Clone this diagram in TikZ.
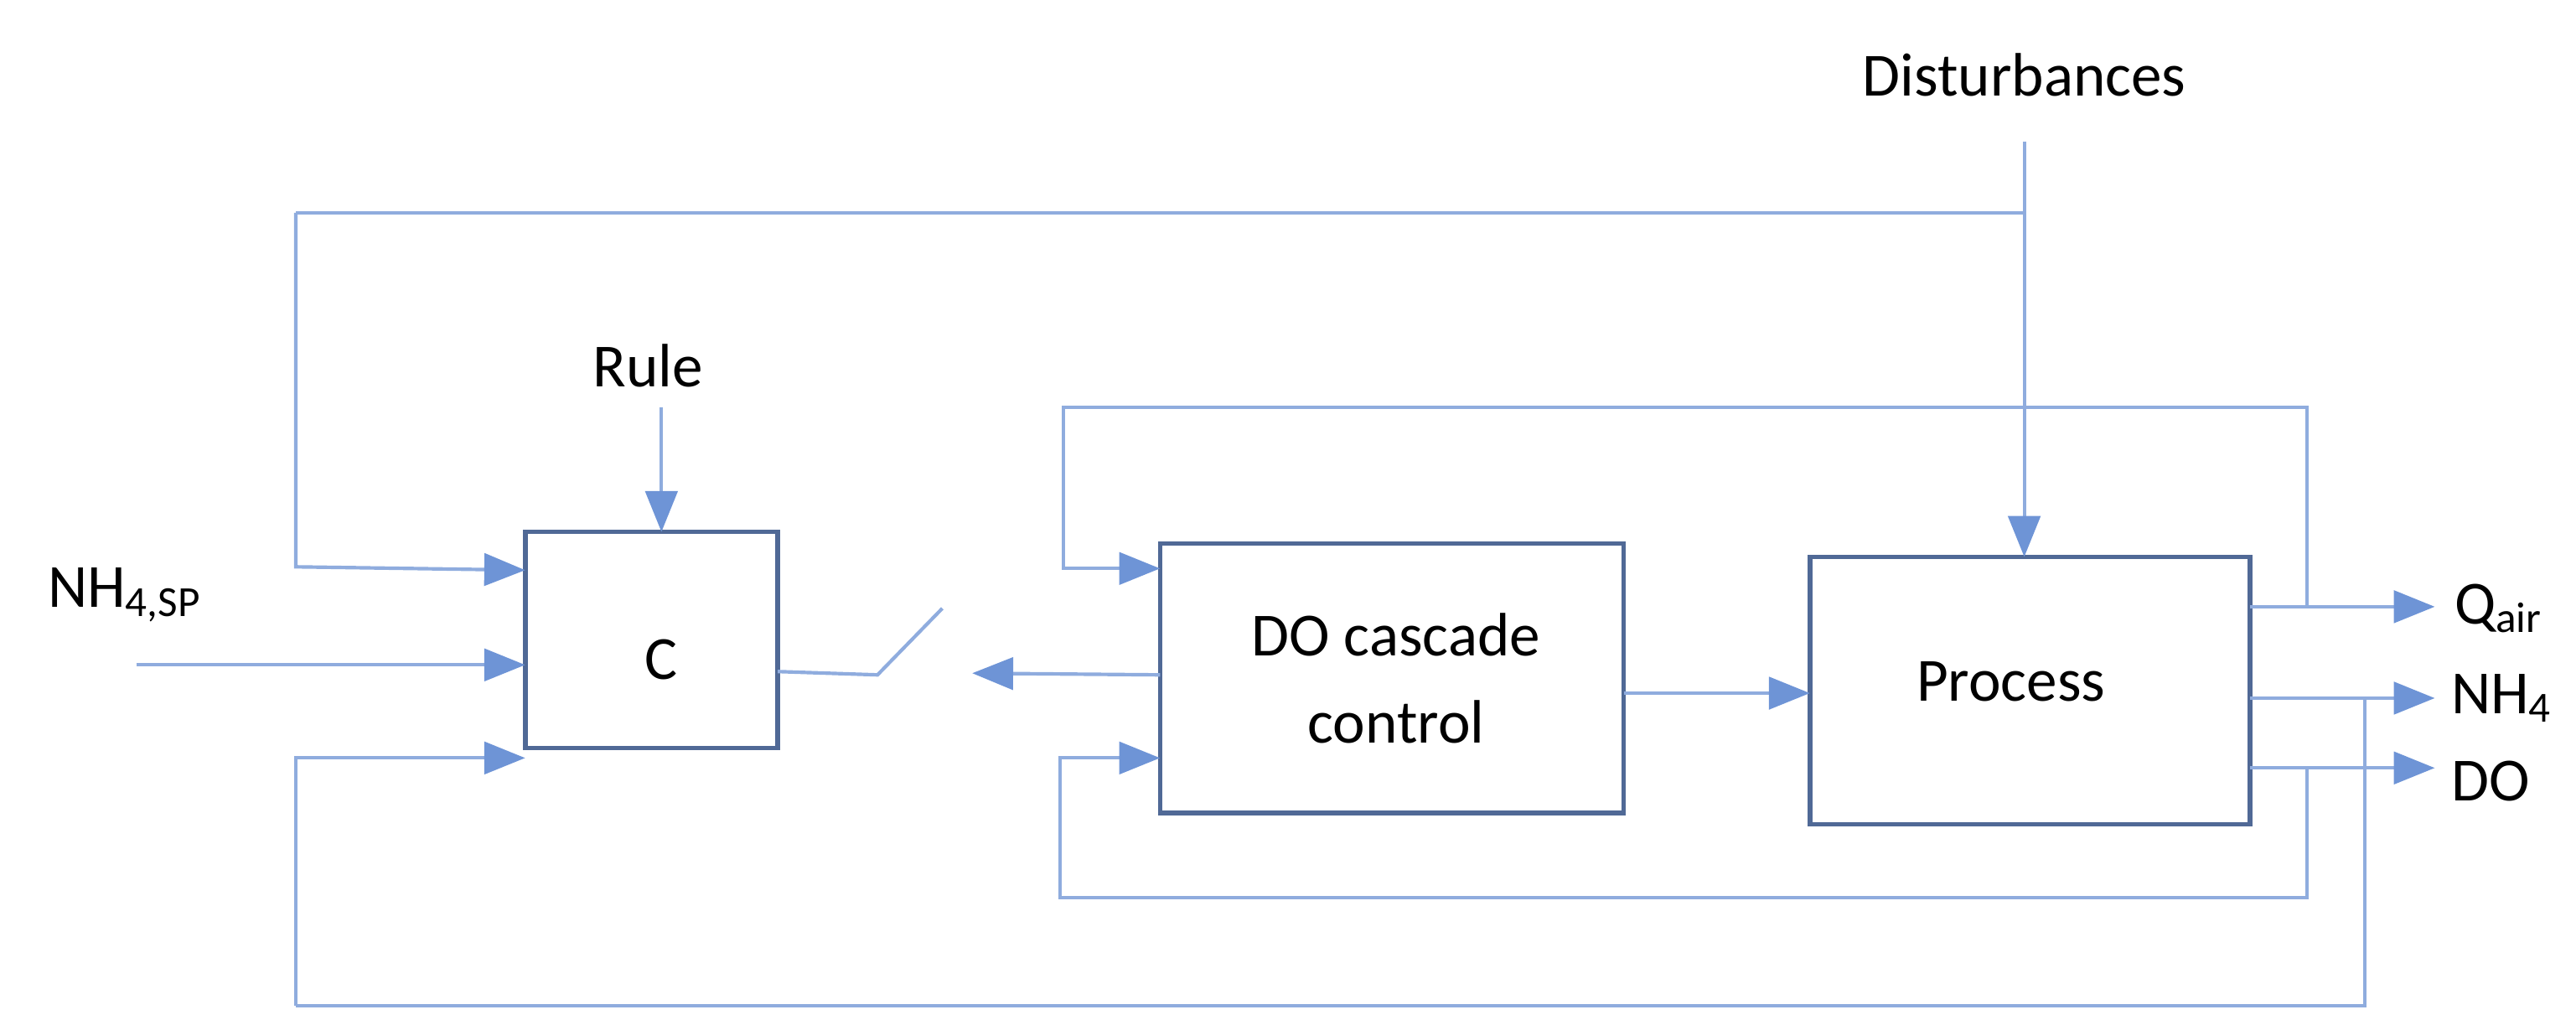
\documentclass[tikz,border=0pt]{standalone}
\usepackage{fontspec}
\setmainfont{Carlito}
\usetikzlibrary{arrows.meta}
\definecolor{ln}{RGB}{143,172,222}
\definecolor{ah}{RGB}{110,148,214}
\definecolor{bx}{RGB}{80,105,150}
\begin{document}
\begin{tikzpicture}[x=0.02cm,y=-0.02cm,
  line width=1.2pt,
  box/.style={draw=bx,line width=1.6pt,inner sep=0pt,fill=white},
  lbl/.style={font=\fontsize{21}{24}\selectfont,text=black},
  w/.style={ln},
  a/.style={ln,-{Triangle[length=14pt,width=11pt,fill=ah,color=ah]}}]
\useasboundingbox (0,0) rectangle (1550,613.6);
\node[box,minimum width=3.04cm,minimum height=2.6cm] (C) at (392,385) {};
\node[lbl] at (398,397) {C};
\node[box,minimum width=5.58cm,minimum height=3.24cm,align=center] (D) at (837.5,408) {};
\node[lbl,align=center] at (840,408) {DO cascade\\[6pt]control};
\node[box,minimum width=5.3cm,minimum height=3.22cm] (P) at (1221.5,415.5) {};
\node[lbl] at (1210,410) {Process};
\node[lbl] (dist) at (1218,45) {Disturbances};
\node[lbl] (rule) at (390,220) {Rule};
\node[lbl] (sp) at (75,358) {NH\textsubscript{4,SP}};
\node[lbl,anchor=west] (qa) at (1470,366) {Q\textsubscript{air}};
\node[lbl,anchor=west] (nh) at (1468,420) {NH\textsubscript{4}};
\node[lbl,anchor=west] (do) at (1468,470) {DO};
\coordinate (s1) at (528,406);
\coordinate (s2) at (567,366);
\coordinate (s3) at (585,405);
\coordinate (t1) at (1218,128);
\coordinate (t2) at (178,128);
\coordinate (b1) at (1423,605);
\coordinate (b2) at (178,605);
\coordinate (pin) at (1218,335);
\draw[a] (1218,85) -- (pin);
\draw[a] (398,245) -- (398,320);
\draw[a] (82,400) -- (316,400);
\draw[w] (t1) -- (t2);
\draw[a] (t2) -- (178,341) -- (316,343);
\draw[w] (1423,420) -- (b1) -- (b2);
\draw[a] (b2) -- (178,456) -- (316,456);
\draw[w] (468,404) -- (s1) -- (s2);
\draw[a] (698,406) -- (s3);
\draw[a] (977,417) -- (1089,417);
\draw[a] (1354,365) -- (1465,365);
\draw[a] (1354,420) -- (1465,420);
\draw[a] (1354,462) -- (1465,462);
\draw[a] (1388,365) -- (1388,245) -- (640,245) -- (640,342) -- (698,342);
\draw[a] (1388,462) -- (1388,540) -- (638,540) -- (638,456) -- (698,456);
\end{tikzpicture}
\end{document}
